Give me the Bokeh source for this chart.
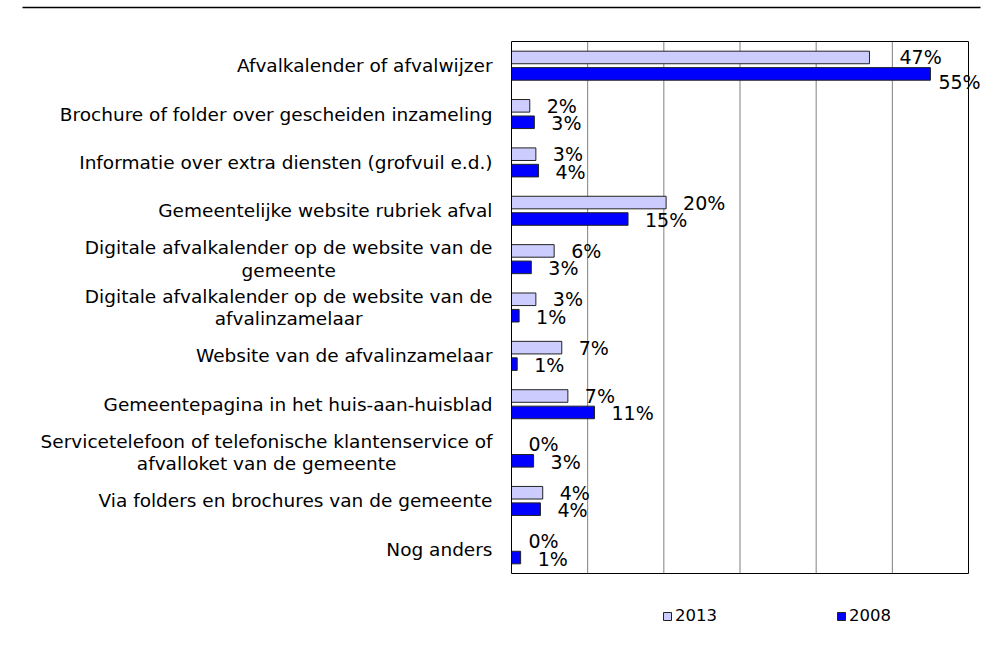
from bokeh.plotting import figure
from bokeh.models import (ColumnDataSource, LabelSet, Label, Legend, LegendItem,
                          Range1d)
from bokeh.core.properties import value
from bokeh.embed import file_html
from bokeh.resources import INLINE

categories = [
    "Afvalkalender of afvalwijzer",
    "Brochure of folder over gescheiden inzameling",
    "Informatie over extra diensten (grofvuil e.d.)",
    "Gemeentelijke website rubriek afval",
    "Digitale afvalkalender op de website van de\ngemeente",
    "Digitale afvalkalender op de website van de\nafvalinzamelaar",
    "Website van de afvalinzamelaar",
    "Gemeentepagina in het huis-aan-huisblad",
    "Servicetelefoon of telefonische klantenservice of\nafvalloket van de gemeente",
    "Via folders en brochures van de gemeente",
    "Nog anders",
]
share_2013 = [47.0, 2.4, 3.2, 20.3, 5.6, 3.2, 6.6, 7.4, 0.0, 4.1, 0.0]
share_2008 = [55.0, 3.0, 3.55, 15.3, 2.6, 1.0, 0.75, 10.9, 2.9, 3.8, 1.2]
series_names = ["2013", "2008"]
grid_ticks = [10, 20, 30, 40, 50]
x_max = 60

FONT = "DejaVu Sans"
# page layout (pixels)
W, H = 986, 656
PLOT_L, PLOT_R, PLOT_T, PLOT_B = 511, 968, 41, 573

n = len(categories)
pxu = (PLOT_R - PLOT_L) / x_max          # px per percent
pyu = (PLOT_B - PLOT_T) / n              # px per category row

def sx2x(sx):
    return (sx - PLOT_L) / pxu

def sy2y(sy):
    return n - (sy - PLOT_T) / pyu

slot = [n - i - 0.5 for i in range(n)]
dodge = 0.17
bar_h = 0.26
crowded = [v > 52 for v in share_2008]   # label would run past the plot edge

def pct(v):
    return f"{v:.0f}%"

src13 = ColumnDataSource(dict(
    y=[s + dodge for s in slot], v=share_2013,
    lab=[pct(v) for v in share_2013],
    xo=[30 if c else 17 for c in crowded], yo=[0 for c in crowded]))
src08 = ColumnDataSource(dict(
    y=[s - dodge for s in slot], v=share_2008,
    lab=[pct(v) for v in share_2008],
    xo=[8 if c else 17 for c in crowded],
    yo=[-8 if c else -1 for c in crowded]))

p = figure(width=W, height=H,
           x_range=Range1d(sx2x(0), sx2x(W)), y_range=Range1d(sy2y(H), sy2y(0)),
           output_backend="svg", toolbar_location=None, title=None,
           x_axis_location=None, y_axis_location=None,
           min_border=0, min_border_left=0, min_border_right=0,
           min_border_top=0, min_border_bottom=0)
p.outline_line_color = None
p.xgrid.visible = False
p.ygrid.visible = False
p.background_fill_color = "white"

# top rule of the page
p.segment(x0=[sx2x(22)], y0=[sy2y(7)], x1=[sx2x(980)], y1=[sy2y(7)],
          line_color="black", line_width=1.5)

# vertical dotted gridlines
gsrc = ColumnDataSource(dict(x=grid_ticks, y0=[0] * len(grid_ticks), y1=[n] * len(grid_ticks)))
p.segment(x0="x", y0="y0", x1="x", y1="y1", source=gsrc,
          line_color="black", line_dash="1 1", line_width=1)

r13 = p.hbar(y="y", left=0, right="v", height=bar_h, source=src13,
             fill_color="#CCCCFF", line_color="#222222", line_width=1)
r08 = p.hbar(y="y", left=0, right="v", height=bar_h, source=src08,
             fill_color="#0000FF", line_color="#222222", line_width=1)

# plot-area border
p.quad(left=[0], right=[x_max], bottom=[0], top=[n],
       fill_color=None, line_color="black", line_width=1)

for src in (src13, src08):
    p.add_layout(LabelSet(x="v", y="y", text="lab", source=src,
                          x_offset="xo", y_offset="yo",
                          text_align="left", text_baseline="middle",
                          text_font=value(FONT), text_font_size=value("19px"),
                          text_color="black"))

for cat, yc in zip(categories, slot):
    if "\n" in cat:
        lab = Label(x=0, y=yc, x_offset=-19, text=cat, anchor="center_right",
                    text_align="center", text_baseline="middle",
                    text_line_height=1.07,
                    text_font=FONT, text_font_size="18.5px", text_color="black")
    else:
        lab = Label(x=0, y=yc, x_offset=-19, text=cat,
                    text_align="right", text_baseline="middle",
                    text_font=FONT, text_font_size="18.5px", text_color="black")
    p.add_layout(lab)

legend = Legend(items=[LegendItem(label=series_names[0], renderers=[r13]),
                       LegendItem(label=series_names[1], renderers=[r08])],
                location=(662, H - 625), orientation="horizontal",
                glyph_width=10, glyph_height=10, label_height=10,
                label_standoff=3, spacing=119, padding=0, margin=0,
                border_line_color=None, background_fill_alpha=0,
                label_text_font=FONT, label_text_font_size="16.5px",
                label_text_color="black")
p.add_layout(legend)

open("out.html", "w").write(file_html(p, INLINE))
